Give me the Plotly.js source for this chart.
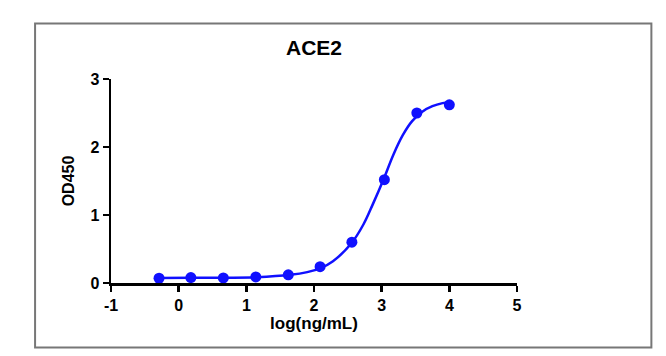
<!DOCTYPE html>
<html>
<head>
<meta charset="utf-8">
<script src="https://cdn.plot.ly/plotly-3.0.1.min.js"></script>
<style>
html,body{margin:0;padding:0;background:#fff;}
#chart{width:666px;height:356px;}
</style>
</head>
<body>
<div id="chart"></div>
<script>
// measured points
var logConc = [-0.29, 0.18, 0.66, 1.14, 1.62, 2.09, 2.56, 3.04, 3.52, 4.0];
var od450 = [0.07, 0.08, 0.075, 0.09, 0.12, 0.24, 0.60, 1.52, 2.50, 2.62];
// fitted curve
var curveX = [-0.3, 0.2, 0.7, 1.15, 1.65, 1.9, 2.1, 2.28, 2.55, 2.73, 2.87, 3.03, 3.17, 3.31, 3.45, 3.6, 3.75, 3.9, 4.0];
var curveY = [0.075, 0.076, 0.078, 0.085, 0.12, 0.16, 0.22, 0.32, 0.58, 0.86, 1.16, 1.53, 1.88, 2.17, 2.38, 2.52, 2.60, 2.645, 2.66];
var xTicks = [-1, 0, 1, 2, 3, 4, 5];
var xTickText = ["-1", "0", "1", "2", "3", "4", "5"];
var yTicks = [0, 1, 2, 3];
var yTickText = ["0", "1", "2", "3"];

var blue = "rgb(16,16,255)";
var data = [
  {x: curveX, y: curveY, mode: "lines", type: "scatter",
   line: {color: blue, width: 2.5, shape: "spline"}, hoverinfo: "skip"},
  {x: logConc, y: od450, mode: "markers", type: "scatter",
   marker: {color: blue, size: 11}}
];
var fam = "Liberation Sans, Arial, sans-serif";
var tickFont = {family: fam, size: 16, color: "#000", weight: 700};
var layout = {
  width: 666, height: 356,
  margin: {l: 111, r: 149, t: 79, b: 73},
  paper_bgcolor: "#fff", plot_bgcolor: "#fff",
  showlegend: false,
  title: {text: "ACE2", font: {family: fam, size: 21, color: "#000", weight: 700},
          x: 0.5, xref: "paper", y: 0.865, yref: "container", xanchor: "center", yanchor: "middle"},
  xaxis: {range: [-1, 5], tickvals: xTicks, ticktext: xTickText, showgrid: false, zeroline: false,
          showline: true, linecolor: "#000", linewidth: 2.5, ticks: "outside", ticklen: 6, tickwidth: 2.5, tickcolor: "#000",
          tickfont: tickFont,
          title: {text: "log(ng/mL)", font: {family: fam, size: 17, color: "#000", weight: 700}, standoff: 3}},
  yaxis: {range: [0, 3], tickvals: yTicks, ticktext: yTickText, showgrid: false, zeroline: false,
          showline: true, linecolor: "#000", linewidth: 2.5, ticks: "outside", ticklen: 6, tickwidth: 2.5, tickcolor: "#000",
          tickfont: tickFont,
          title: {text: "OD450", font: {family: fam, size: 16, color: "#000", weight: 700}, standoff: 12}},
  shapes: [{type: "rect", xref: "paper", yref: "paper",
            x0: -0.187, x1: 1.331, y0: -0.316, y1: 1.272,
            line: {color: "#777", width: 2}, fillcolor: "rgba(0,0,0,0)", layer: "below"}]
};
Plotly.newPlot("chart", data, layout, {displayModeBar: false, staticPlot: true});
</script>
</body>
</html>
